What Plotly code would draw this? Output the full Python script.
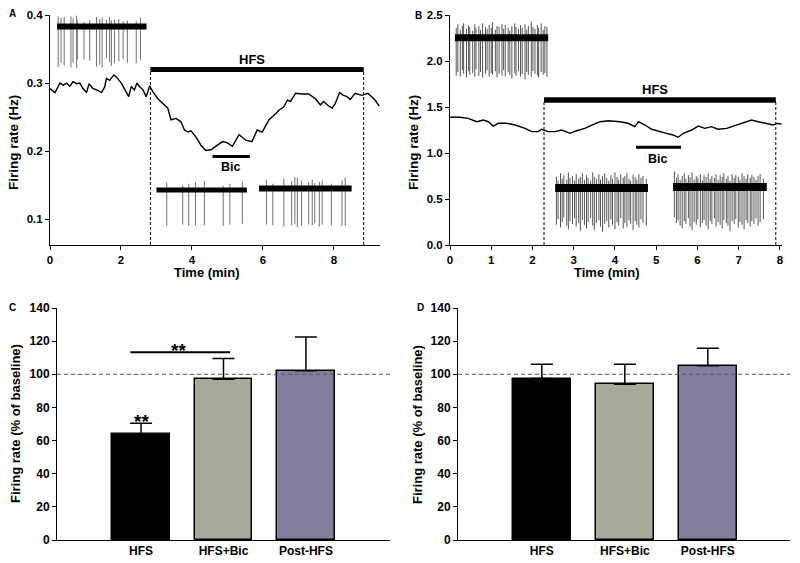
import plotly.graph_objects as go

# ---------------- Panel A data ----------------
a_time = [0, 0.14, 0.28, 0.37, 0.47, 0.56, 0.65, 0.75, 0.84, 0.93, 1.03, 1.10, 1.21, 1.36, 1.45, 1.54,
          1.59, 1.68, 1.80, 1.87, 2.01, 2.10, 2.22, 2.29, 2.38, 2.45, 2.52, 2.62, 2.71, 2.81, 2.90, 3.04,
          3.18, 3.32, 3.41, 3.55, 3.69, 3.79, 3.90, 3.97, 4.11, 4.25, 4.39, 4.54, 4.67, 4.86, 5.00, 5.14,
          5.33, 5.52, 5.69, 5.84, 5.98, 6.17, 6.36, 6.45, 6.59, 6.69, 6.78, 6.92, 7.11, 7.29, 7.48, 7.62,
          7.71, 7.81, 7.95, 8.04, 8.16, 8.27, 8.37, 8.46, 8.60, 8.79, 8.96, 9.07, 9.16, 9.28]
a_rate = [0.292, 0.286, 0.300, 0.297, 0.300, 0.295, 0.302, 0.299, 0.300, 0.292, 0.286, 0.299, 0.292, 0.289,
          0.286, 0.294, 0.307, 0.304, 0.312, 0.309, 0.300, 0.292, 0.280, 0.295, 0.290, 0.300, 0.295, 0.290,
          0.280, 0.296, 0.287, 0.277, 0.270, 0.263, 0.246, 0.248, 0.243, 0.231, 0.228, 0.230, 0.221, 0.209,
          0.201, 0.202, 0.207, 0.214, 0.212, 0.207, 0.224, 0.216, 0.214, 0.231, 0.228, 0.246, 0.255, 0.260,
          0.265, 0.275, 0.273, 0.285, 0.284, 0.284, 0.277, 0.268, 0.273, 0.268, 0.263, 0.270, 0.286, 0.282,
          0.280, 0.276, 0.285, 0.282, 0.285, 0.280, 0.275, 0.266]
a_hfs = [2.83, 8.84]
a_bic = [4.58, 5.63]

# raw-trace insets, panel A (spike times, spike bottoms, spike tops, trace band span)
a1_span = [0.20, 2.72]
a1_t = [0.23, 0.31, 0.40, 0.59, 0.65, 0.75, 0.77, 0.96, 1.12, 1.31, 1.40, 1.47, 1.59, 1.68, 1.73, 1.82,
        1.94, 2.06, 2.18, 2.43, 2.55]
a1_lo = [0.324, 0.330, 0.326, 0.323, 0.330, 0.322, 0.334, 0.335, 0.333, 0.324, 0.327, 0.323, 0.337, 0.331,
         0.325, 0.329, 0.332, 0.335, 0.330, 0.329, 0.334]
a1_hi = [0.398, 0.396, 0.397, 0.398, 0.395, 0.399, 0.392, 0.390, 0.393, 0.397, 0.394, 0.396, 0.393, 0.397,
         0.392, 0.393, 0.394, 0.391, 0.392, 0.391, 0.396]
a2_span = [3.00, 5.55]
a2_t = [3.29, 3.74, 3.91, 4.10, 4.35, 4.88, 5.07, 5.42]
a2_lo = [0.090, 0.092, 0.090, 0.091, 0.091, 0.090, 0.092, 0.093]
a2_hi = [0.154, 0.150, 0.152, 0.155, 0.156, 0.149, 0.152, 0.155]
a3_span = [5.89, 8.50]
a3_t = [6.10, 6.28, 6.59, 6.81, 6.90, 6.97, 7.09, 7.29, 7.39, 7.46, 7.59, 7.67, 7.93, 8.23, 8.32]
a3_lo = [0.092, 0.091, 0.089, 0.091, 0.093, 0.088, 0.090, 0.092, 0.091, 0.094, 0.089, 0.092, 0.091, 0.090, 0.090]
a3_hi = [0.158, 0.152, 0.160, 0.156, 0.162, 0.161, 0.157, 0.155, 0.158, 0.153, 0.155, 0.157, 0.152, 0.157, 0.161]

# ---------------- Panel B data ----------------
b_time = [0.0, 0.24, 0.44, 0.65, 0.81, 0.93, 1.05, 1.17, 1.37, 1.58, 1.82, 1.98, 2.14, 2.22, 2.38, 2.55,
          2.71, 2.91, 3.07, 3.27, 3.44, 3.64, 3.84, 4.12, 4.32, 4.48, 4.57, 4.73, 4.89, 5.05, 5.25, 5.41,
          5.53, 5.66, 5.86, 6.02, 6.18, 6.34, 6.50, 6.71, 6.95, 7.15, 7.31, 7.47, 7.68, 7.84, 7.92, 8.04]
b_rate = [1.388, 1.388, 1.377, 1.340, 1.359, 1.340, 1.293, 1.323, 1.323, 1.304, 1.268, 1.232, 1.232, 1.258,
          1.232, 1.232, 1.250, 1.214, 1.242, 1.268, 1.304, 1.340, 1.351, 1.340, 1.323, 1.286, 1.340, 1.304,
          1.258, 1.242, 1.214, 1.196, 1.171, 1.214, 1.250, 1.293, 1.268, 1.286, 1.258, 1.268, 1.304, 1.340,
          1.359, 1.340, 1.323, 1.304, 1.322, 1.315]
b_hfs = [2.28, 7.90]
b_bic = [4.51, 5.60]

b1_span = [0.12, 2.38]
b1_t = [0.15, 0.19, 0.25, 0.30, 0.33, 0.40, 0.45, 0.48, 0.55, 0.60, 0.63, 0.70, 0.74, 0.79, 0.86,
        0.90, 0.95, 1.00, 1.03, 1.10, 1.14, 1.19, 1.26, 1.30, 1.34, 1.41, 1.45, 1.50, 1.57, 1.60,
        1.66, 1.71, 1.75, 1.82, 1.86, 1.90, 1.97, 2.01, 2.06, 2.12, 2.15, 2.21, 2.26, 2.30, 2.35]
b1_lo = [1.84, 1.88, 1.83, 1.90, 1.86, 1.82, 1.89, 1.85, 1.87, 1.83, 1.91, 1.84, 1.88, 1.82, 1.86,
         1.90, 1.83, 1.87, 1.85, 1.89, 1.82, 1.86, 1.84, 1.90, 1.83, 1.88, 1.85, 1.81, 1.87, 1.84,
         1.89, 1.83, 1.86, 1.80, 1.88, 1.85, 1.83, 1.89, 1.86, 1.84, 1.82, 1.88, 1.85, 1.87, 1.83]
b1_hi = [2.36, 2.40, 2.34, 2.38, 2.41, 2.35, 2.39, 2.37, 2.33, 2.40, 2.36, 2.38, 2.34, 2.41, 2.37,
         2.35, 2.39, 2.36, 2.42, 2.34, 2.38, 2.37, 2.40, 2.35, 2.39, 2.36, 2.33, 2.38, 2.41, 2.37,
         2.35, 2.39, 2.36, 2.40, 2.34, 2.38, 2.43, 2.37, 2.35, 2.39, 2.36, 2.41, 2.34, 2.38, 2.37]
b2_span = [2.55, 4.80]
b2_t = [2.58, 2.62, 2.68, 2.72, 2.76, 2.83, 2.87, 2.91, 2.97, 3.02, 3.06, 3.12, 3.16, 3.21, 3.26,
        3.31, 3.35, 3.41, 3.46, 3.50, 3.55, 3.61, 3.65, 3.70, 3.75, 3.80, 3.85, 3.90, 3.94, 4.00,
        4.05, 4.09, 4.14, 4.20, 4.24, 4.29, 4.34, 4.38, 4.44, 4.49, 4.53, 4.58, 4.63, 4.68, 4.76]
b2_lo = [0.22, 0.28, 0.19, 0.25, 0.30, 0.21, 0.17, 0.26, 0.23, 0.29, 0.20, 0.24, 0.15, 0.27, 0.22,
         0.18, 0.25, 0.29, 0.21, 0.16, 0.24, 0.27, 0.20, 0.14, 0.23, 0.26, 0.19, 0.28, 0.22, 0.17,
         0.25, 0.21, 0.29, 0.18, 0.24, 0.20, 0.27, 0.23, 0.16, 0.26, 0.22, 0.19, 0.28, 0.24, 0.21]
b2_hi = [0.74, 0.70, 0.78, 0.72, 0.76, 0.71, 0.79, 0.73, 0.75, 0.70, 0.77, 0.72, 0.74, 0.78, 0.71,
         0.76, 0.73, 0.70, 0.79, 0.74, 0.72, 0.77, 0.71, 0.75, 0.78, 0.73, 0.70, 0.76, 0.72, 0.79,
         0.74, 0.71, 0.77, 0.73, 0.75, 0.78, 0.72, 0.70, 0.76, 0.74, 0.71, 0.77, 0.73, 0.75, 0.72]
b3_span = [5.41, 7.68]
b3_t = [5.44, 5.49, 5.53, 5.58, 5.63, 5.68, 5.72, 5.78, 5.82, 5.87, 5.92, 5.97, 6.01, 6.07, 6.12,
        6.16, 6.21, 6.26, 6.31, 6.35, 6.41, 6.45, 6.50, 6.55, 6.60, 6.64, 6.70, 6.74, 6.79, 6.84,
        6.89, 6.93, 6.99, 7.03, 7.08, 7.13, 7.18, 7.22, 7.28, 7.32, 7.37, 7.42, 7.47, 7.52, 7.60]
b3_lo = [0.30, 0.24, 0.27, 0.21, 0.18, 0.26, 0.23, 0.29, 0.20, 0.16, 0.25, 0.22, 0.28, 0.19, 0.24,
         0.27, 0.21, 0.17, 0.26, 0.23, 0.29, 0.20, 0.25, 0.22, 0.18, 0.27, 0.24, 0.21, 0.15, 0.26,
         0.23, 0.28, 0.19, 0.25, 0.22, 0.17, 0.27, 0.24, 0.20, 0.26, 0.23, 0.29, 0.21, 0.25, 0.28]
b3_hi = [0.80, 0.73, 0.77, 0.71, 0.75, 0.78, 0.72, 0.76, 0.74, 0.79, 0.71, 0.75, 0.73, 0.77, 0.70,
         0.76, 0.74, 0.78, 0.72, 0.75, 0.73, 0.77, 0.71, 0.76, 0.74, 0.78, 0.72, 0.75, 0.70, 0.77,
         0.73, 0.76, 0.74, 0.71, 0.78, 0.75, 0.72, 0.77, 0.73, 0.76, 0.74, 0.71, 0.75, 0.77, 0.72]

# ---------------- Panels C and D data ----------------
categories = ["HFS", "HFS+Bic", "Post-HFS"]
c_mean = [64.0, 97.0, 102.2]
c_sem = [6.4, 12.6, 20.3]
d_mean = [97.4, 94.0, 105.2]
d_sem = [8.6, 12.0, 10.5]
bar_colors = ["#000000", "#a9a99b", "#80809e"]

FONT = "Arial, Liberation Sans, sans-serif"
W, H = 800, 563


def px_x(p):
    return p / W


def px_y(p):
    return 1 - p / H


fig = go.Figure()


def spikes(t, lo, hi, xa, ya, color):
    xs, ys = [], []
    for ti, l, h in zip(t, lo, hi):
        xs += [ti, ti, None]
        ys += [l, h, None]
    fig.add_trace(go.Scatter(x=xs, y=ys, mode="lines", line=dict(color=color, width=1),
                             xaxis=xa, yaxis=ya, hoverinfo="skip", showlegend=False))


def band(span, level, xa, ya, width):
    fig.add_trace(go.Scatter(x=span, y=[level, level], mode="lines",
                             line=dict(color="black", width=width),
                             xaxis=xa, yaxis=ya, hoverinfo="skip", showlegend=False))


# Panel A
spikes(a1_t, a1_lo, a1_hi, "x", "y", "#707070")
spikes(a2_t, a2_lo, a2_hi, "x", "y", "#707070")
spikes(a3_t, a3_lo, a3_hi, "x", "y", "#707070")
band(a1_span, 0.383, "x", "y", 6)
band(a2_span, 0.143, "x", "y", 5)
band(a3_span, 0.145, "x", "y", 6)
band(a_hfs, 0.320, "x", "y", 5)
band(a_bic, 0.192, "x", "y", 3)
fig.add_trace(go.Scatter(x=a_time, y=a_rate, mode="lines", line=dict(color="black", width=1.4),
                         xaxis="x", yaxis="y", showlegend=False))

# Panel B
spikes(b1_t, b1_lo, b1_hi, "x2", "y2", "#555555")
spikes(b2_t, b2_lo, b2_hi, "x2", "y2", "#555555")
spikes(b3_t, b3_lo, b3_hi, "x2", "y2", "#555555")
band(b1_span, 2.253, "x2", "y2", 7)
band(b2_span, 0.620, "x2", "y2", 8)
band(b3_span, 0.630, "x2", "y2", 8)
band(b_hfs, 1.576, "x2", "y2", 5.5)
band(b_bic, 1.062, "x2", "y2", 3)
fig.add_trace(go.Scatter(x=b_time, y=b_rate, mode="lines", line=dict(color="black", width=1.4),
                         xaxis="x2", yaxis="y2", showlegend=False))

# Panels C and D
for means, sems, xa, ya in [(c_mean, c_sem, "x3", "y3"), (d_mean, d_sem, "x4", "y4")]:
    fig.add_trace(go.Bar(x=[0, 1, 2], y=means, width=0.7,
                         marker=dict(color=bar_colors, line=dict(color="black", width=1.5)),
                         error_y=dict(type="data", array=sems, arrayminus=[0, 0, 0], symmetric=False,
                                      color="black", thickness=1.5, width=11),
                         xaxis=xa, yaxis=ya, showlegend=False))

tick_ab = dict(family=FONT, size=11.5, color="black", weight="bold")
tick_cd = dict(family=FONT, size=12, color="black", weight="bold")
common = dict(showline=True, linecolor="black", linewidth=1, ticks="outside", ticklen=4,
              tickcolor="black", showgrid=False, zeroline=False,
              automargin=False, fixedrange=True)

fig.update_layout(
    width=W, height=H, margin=dict(l=0, r=0, t=0, b=0),
    paper_bgcolor="white", plot_bgcolor="white", showlegend=False, bargap=0,
    font=dict(family=FONT, color="black"),
    xaxis=dict(domain=[px_x(50), px_x(380)], range=[0, 9.3], tickvals=[0, 2, 4, 6, 8],
               anchor="y", tickfont=tick_ab, **common),
    yaxis=dict(domain=[px_y(245), px_y(15)], range=[0.062, 0.4], tickvals=[0.1, 0.2, 0.3, 0.4],
               tickformat=".1f", anchor="x", tickfont=tick_ab, **common),
    xaxis2=dict(domain=[px_x(450), px_x(782)], range=[0, 8.05], tickvals=list(range(9)),
                anchor="y2", tickfont=tick_ab, **common),
    yaxis2=dict(domain=[px_y(245), px_y(15)], range=[0, 2.5], tickvals=[0, 0.5, 1.0, 1.5, 2.0, 2.5],
                tickformat=".1f", anchor="x2", tickfont=tick_ab, **common),
    xaxis3=dict(domain=[px_x(57), px_x(390)], range=[-1.02, 3.02], tickvals=[0, 1, 2],
                ticktext=categories, anchor="y3", tickfont=tick_cd,
                **{**common, "ticks": "", "ticklen": 0}),
    yaxis3=dict(domain=[px_y(540), px_y(308)], range=[0, 140], tickvals=list(range(0, 141, 20)),
                anchor="x3", tickfont=tick_cd, **common),
    xaxis4=dict(domain=[px_x(458), px_x(790)], range=[-1.01, 2.99], tickvals=[0, 1, 2],
                ticktext=categories, anchor="y4", tickfont=tick_cd,
                **{**common, "ticks": "", "ticklen": 0}),
    yaxis4=dict(domain=[px_y(540), px_y(308)], range=[0, 140], tickvals=list(range(0, 141, 20)),
                anchor="x4", tickfont=tick_cd, **common),
)

shapes = []
# dashed onset/offset lines of HFS
for xv in a_hfs:
    shapes.append(dict(type="line", xref="x", yref="y", x0=xv, x1=xv, y0=0.062, y1=0.320,
                       line=dict(color="black", width=1, dash="3px,2px")))
for xv in b_hfs:
    shapes.append(dict(type="line", xref="x2", yref="y2", x0=xv, x1=xv, y0=0, y1=1.576,
                       line=dict(color="black", width=1, dash="3px,2px")))
# baseline 100% dashed lines
shapes.append(dict(type="line", xref="x3 domain", yref="y3", x0=0, x1=1, y0=100, y1=100,
                   line=dict(color="#555555", width=1, dash="4px,3px"), layer="above"))
shapes.append(dict(type="line", xref="x4 domain", yref="y4", x0=0, x1=1, y0=100, y1=100,
                   line=dict(color="#555555", width=1, dash="4px,3px"), layer="above"))
# significance bracket in C
shapes.append(dict(type="line", xref="x3", yref="y3", x0=-0.13, x1=1.08, y0=113.3, y1=113.3,
                   line=dict(color="black", width=2)))
fig.update_layout(shapes=shapes)

ann = []


def txt(text, x, y, xref="paper", yref="paper", size=11, angle=0):
    ann.append(dict(text="<b>" + text + "</b>", x=x, y=y, xref=xref, yref=yref, showarrow=False,
                    textangle=angle, xanchor="center", yanchor="middle",
                    font=dict(family=FONT, size=size, color="black")))


# panel letters
txt("A", px_x(12), px_y(14), size=10)
txt("B", px_x(418), px_y(15), size=10)
txt("C", px_x(12), px_y(308), size=10)
txt("D", px_x(420), px_y(307), size=10)
# axis titles
txt("Firing rate (Hz)", px_x(13), px_y(143), size=13.5, angle=-90)
txt("Firing rate (Hz)", px_x(413), px_y(143), size=13.5, angle=-90)
txt("Time (min)", px_x(207), px_y(272), size=13)
txt("Time (min)", px_x(607), px_y(272), size=13)
txt("Firing rate (% of baseline)", px_x(15), px_y(424), size=13, angle=-90)
txt("Firing rate (% of baseline)", px_x(417), px_y(425), size=13, angle=-90)
# in-plot labels
txt("HFS", 5.69, 0.3346, "x", "y", size=13)
txt("Bic", 5.10, 0.176, "x", "y", size=12.5)
txt("HFS", 4.97, 1.685, "x2", "y2", size=13)
txt("Bic", 5.04, 0.935, "x2", "y2", size=12.5)
txt("**", 0.45, 114.5, "x3", "y3", size=19)
txt("**", 0.0, 71.5, "x3", "y3", size=19)
fig.update_layout(annotations=ann)

fig.write_html("out.html", config={"displayModeBar": False},
               post_script="document.body.style.margin='0';document.body.style.padding='0';")
